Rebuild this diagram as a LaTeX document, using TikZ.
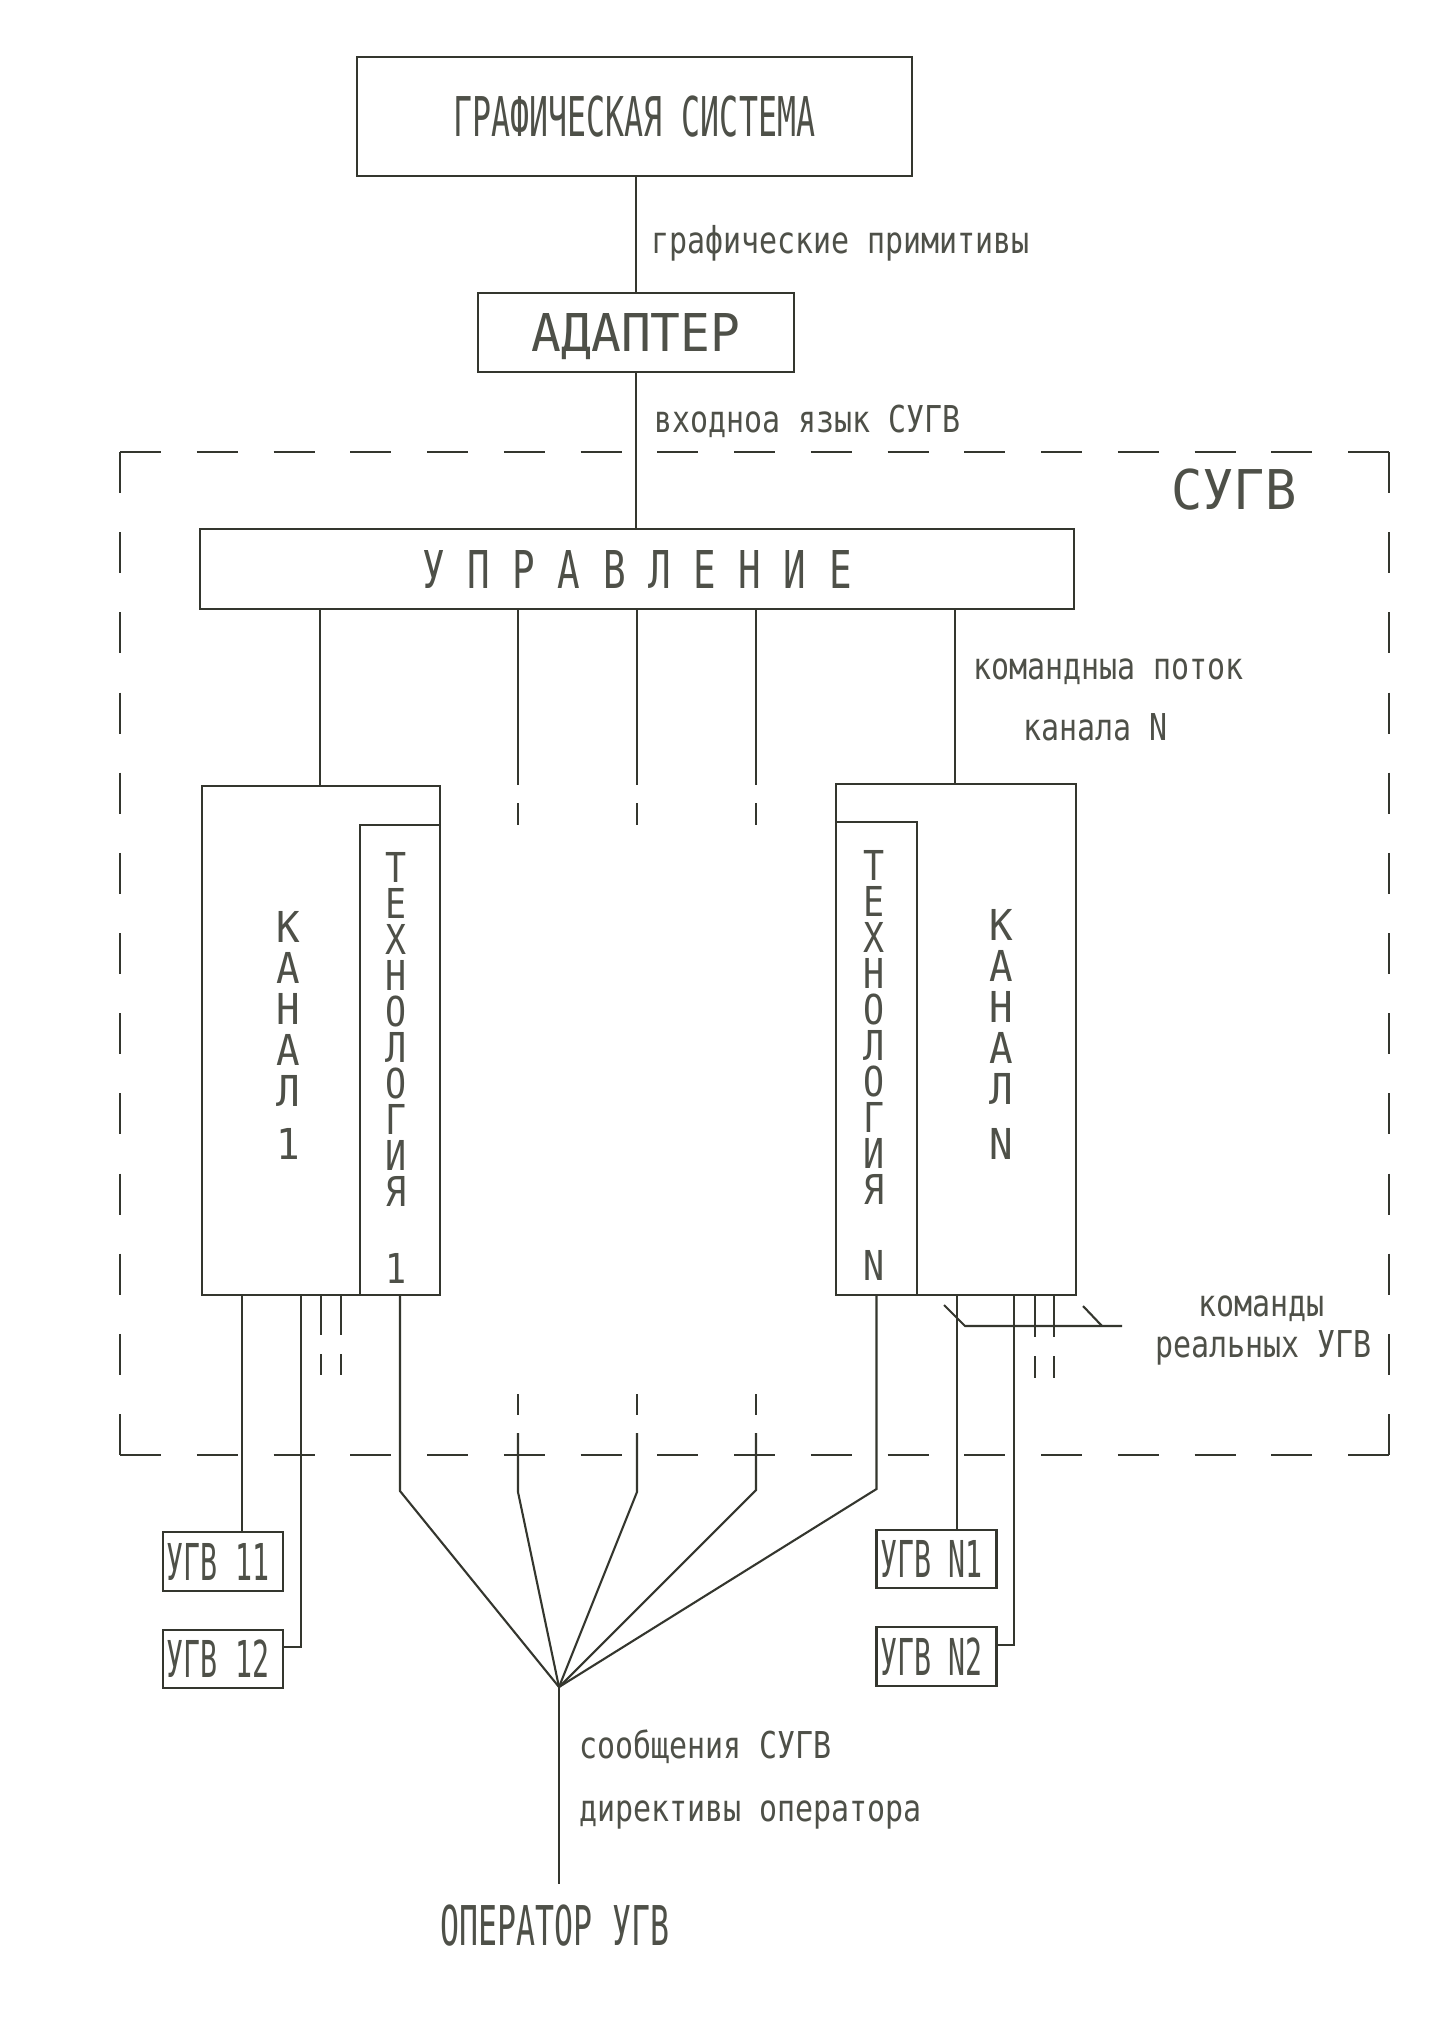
\documentclass[tikz,border=0pt]{standalone}
\usepackage{fontspec}
\newfontfamily\fBig{DejaVu Sans Mono}[FakeStretch=0.576]
\newfontfamily\fAd{DejaVu Sans Mono}[FakeStretch=0.95]
\newfontfamily\fUpr{DejaVu Sans Mono}[FakeStretch=0.72]
\newfontfamily\fSugv{DejaVu Sans Mono}[FakeStretch=0.95]
\newfontfamily\fLbl{DejaVu Sans Mono}[FakeStretch=0.81]
\newfontfamily\fUgv{DejaVu Sans Mono}[FakeStretch=0.556]
\newfontfamily\fTech{DejaVu Sans Mono}[FakeStretch=0.85]
\newfontfamily\fKan{DejaVu Sans Mono}[FakeStretch=0.92]
\definecolor{ink}{RGB}{52,54,46}
\definecolor{txt}{RGB}{78,80,72}
\begin{document}
\begin{tikzpicture}[x=0.5pt,y=-0.5pt,line width=1.05pt,color=ink,
  every node/.style={text=txt},
  box/.style={draw=ink,rectangle,inner sep=0pt,outer sep=0pt,text depth=0pt},
  lbl/.style={inner sep=0pt,anchor=base west,font=\fLbl\fontsize{18.5pt}{20pt}\selectfont},
  hbord/.style={dash pattern=on 20.5pt off 17.875pt},
  vbord/.style={dash pattern=on 20.5pt off 19.585pt},
  kstack/.style={inner sep=0pt,anchor=north,align=center,font=\fKan\fontsize{21.3pt}{20.5pt}\selectfont},
  tstack/.style={inner sep=0pt,anchor=north,align=center,font=\fTech\fontsize{20.6pt}{18pt}\selectfont},
  ugvbox/.style={box,minimum width=60pt,minimum height=29.25pt,text height=18.5pt,font=\fUgv\fontsize{25.4pt}{26pt}\selectfont}]
\fill[white] (0,0) rectangle (1456,2024);
\useasboundingbox (0,0) rectangle (1456,2024);

% main boxes
\node[box,minimum width=277.5pt,minimum height=59.5pt,text height=20pt,font=\fBig\fontsize{27.4pt}{30pt}\selectfont] (graph) at (634.5,116.5) {ГРАФИЧЕСКАЯ СИСТЕМА};
\node[box,minimum width=158pt,minimum height=39.5pt,text height=19pt,font=\fAd\fontsize{26.06pt}{28pt}\selectfont] (adapter) at (636,332.5) {АДАПТЕР};
\node[box,minimum width=437pt,minimum height=40pt,text height=19pt,font=\fUpr\fontsize{26.06pt}{28pt}\selectfont] (upr) at (637,569) {У П Р А В Л Е Н И Е};

% channel boxes
\node[box,minimum width=119pt,minimum height=254.5pt] (kanal1) at (321,1040.5) {};
\node[box,minimum width=40pt,minimum height=235pt] (tech1) at (400,1060) {};
\node[box,minimum width=120pt,minimum height=255.5pt] (kanalN) at (956,1039.5) {};
\node[box,minimum width=40.5pt,minimum height=236.5pt] (techN) at (876.5,1058.5) {};

% vertical texts
\node[kstack] (k1txt) at (288,910) {К\\А\\Н\\А\\Л\\[6pt]1};
\node[tstack] (t1txt) at (396,851) {Т\\Е\\Х\\Н\\О\\Л\\О\\Г\\И\\Я\\[20.5pt]1};
\node[kstack] (kNtxt) at (1001,908) {К\\А\\Н\\А\\Л\\[7pt]N};
\node[tstack] (tNtxt) at (874,849) {Т\\Е\\Х\\Н\\О\\Л\\О\\Г\\И\\Я\\[20pt]N};

% UGV boxes
\node[ugvbox] (ugv11) at (223,1561.5) {\kern-5pt УГВ 11};
\node[ugvbox] (ugv12) at (223,1659) {\kern-5pt УГВ 12};
\node[ugvbox] (ugvN1) at (936.5,1559) {\kern-5pt УГВ N1};
\node[ugvbox] (ugvN2) at (936.5,1656.5) {\kern-5pt УГВ N2};

% labels
\node[lbl] (l1) at (650,253) {графические примитивы};
\node[lbl] (l2) at (653,432) {входноа язык СУГВ};
\node[inner sep=0pt,anchor=base west,font=\fSugv\fontsize{27.4pt}{30pt}\selectfont] (sugv) at (1170,509) {СУГВ};
\node[lbl] (l3) at (972,679) {командныа поток};
\node[lbl] (l4) at (1022,740) {канала N};
\node[lbl] (l5) at (1197,1316) {команды};
\node[lbl] (l6) at (1154,1357) {реальных УГВ};
\node[lbl] (l7) at (578,1758) {сообщения СУГВ};
\node[lbl] (l8) at (578,1821) {директивы оператора};
\node[inner sep=0pt,inner ysep=10pt,text height=20pt,text depth=0pt,font=\fBig\fontsize{27.4pt}{30pt}\selectfont] (oper) at (555,1925) {ОПЕРАТОР УГВ};

% dashed SUGV border
\draw[hbord] (120,452) -- (1389,452);
\draw[hbord] (120,1455) -- (1389,1455);
\draw[vbord] (120,452) -- (120,1455);
\draw[vbord] (1389,452) -- (1389,1455);

% top connectors
\draw (adapter.north) -- (adapter.north |- graph.south);
\draw (adapter.south) -- (adapter.south |- upr.north);

% upr to channels
\draw (upr.south -| 320,0) -- (kanal1.north -| 320,0);
\draw (upr.south -| 955,0) -- (kanalN.north -| 955,0);

% middle broken lines
\coordinate (conv) at (559,1687);
\foreach \xx/\bb in {518/1492,637/1492,756/1490}{
  \draw (upr.south -| \xx,0) -- (\xx,785);
  \draw (\xx,803) -- (\xx,825);
  \draw (\xx,1394) -- (\xx,1415);
  \draw (\xx,1433) -- (\xx,\bb) -- (conv);
}
% technology lines to operator
\draw (tech1.south) -- (tech1.south |- 0,1491) -- (conv);
\draw (techN.south) -- (techN.south |- 0,1489) -- (conv);
\draw (conv) -- (conv |- oper.north);

% channel 1 outputs
\draw (kanal1.south -| 242,0) -- (ugv11.north -| 242,0);
\draw (kanal1.south -| 301,0) -- (301,1647) -- (ugv12.east |- 0,1647);
\foreach \xx in {321,341}{
  \draw (kanal1.south -| \xx,0) -- (\xx,1335);
  \draw (\xx,1354) -- (\xx,1375);
}
% channel N outputs
\draw (kanalN.south -| 957,0) -- (ugvN1.north -| 957,0);
\draw (kanalN.south -| 1014,0) -- (1014,1645) -- (ugvN2.east |- 0,1645);
\foreach \xx in {1035,1054}{
  \draw (kanalN.south -| \xx,0) -- (\xx,1337);
  \draw (\xx,1356) -- (\xx,1378);
}
% annotation of real UGV commands
\coordinate (ca) at (944,1305);
\coordinate (cb) at (965,1326);
\coordinate (cc) at (1122,1326);
\coordinate (cd) at (1083,1306);
\coordinate (ce) at (1102,1326);
\draw (ca) -- (cb) -- (cc);
\draw (cd) -- (ce);
\end{tikzpicture}
\end{document}
